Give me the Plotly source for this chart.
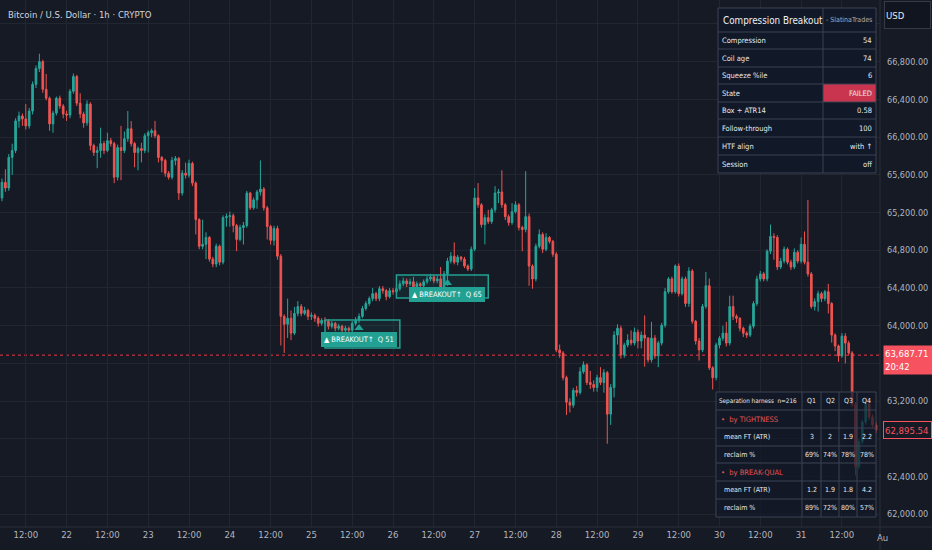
import plotly.graph_objects as go
import pandas as pd

# ---------------- data ----------------
start_time = "2024-07-21 05:00"
first_open = 65355

close = [
    65520, 65460, 65785, 65858, 66172, 66224, 66193, 66119, 66276, 66559, 66727, 66800,
    66507, 66412, 66140, 66255, 66412, 66329, 66245, 66234, 66486, 66643, 66360, 66245,
    66151, 66350, 65910, 65837, 65858, 65931, 65858, 65962, 65931, 65575, 65889, 65858,
    65983, 66088, 65931, 65837, 65878, 65858, 66015, 66046, 66067, 66015, 65784, 65753,
    65617, 65575, 65753, 65774, 65407, 65617, 65596, 65721, 65512, 65125, 64842, 64863,
    64936, 64706, 64654, 64842, 64674, 65146, 65156, 65167, 65062, 64915, 65041, 65062,
    65407, 65250, 65334, 65418, 65449, 65250, 65051, 64905, 65030, 64737, 64099, 64015,
    64078, 63921, 64130, 64203, 64130, 64161, 64099, 64109, 64078, 64025, 64057, 64046,
    63994, 64025, 63973, 63994, 63952, 63973, 63952, 64025, 64057, 64099, 64182, 64235,
    64287, 64340, 64287, 64392, 64371, 64308, 64371, 64361, 64392, 64444, 64475, 64444,
    64465, 64413, 64444, 64423, 64465, 64496, 64517, 64475, 64496, 64392, 64549, 64685,
    64737, 64674, 64727, 64706, 64633, 64601, 64811, 65355, 65282, 65072, 65146, 65104,
    65229, 65407, 65418, 65282, 65156, 65093, 65208, 65282, 65041, 65020, 65156, 64633,
    64496, 64842, 64968, 64811, 64936, 64894, 64758, 63743, 63711, 63449, 63188, 63157,
    63313, 63292, 63512, 63585, 63397, 63376, 63345, 63449, 63397, 63502, 63062, 63345,
    63900, 63973, 63690, 63795, 63847, 63816, 63931, 63837, 63900, 63868, 63638, 63868,
    63680, 63816, 64004, 64360, 64496, 64360, 64633, 64340, 64496, 64235, 64580, 64046,
    63837, 63743, 64203, 64423, 63554, 63449, 63795, 63868, 63921, 63816, 64203, 64099,
    64078, 63973, 63921, 63900, 63994, 64235, 64496, 64549, 64496, 64790, 64947, 64936,
    64622, 64685, 64811, 64674, 64622, 64779, 64685, 64863, 64674, 64549, 64203, 64256,
    64340, 64287, 64360, 64235, 63900, 63785, 63680, 63889, 63816, 63711, 63167, 62507,
    62770, 62978, 63167, 63031, 62947, 62895.54,
]

high = [
    65560, 65658, 65820, 65930, 66200, 66270, 66250, 66350, 66310, 66590, 66760, 66884,
    66820, 66670, 66430, 66280, 66430, 66440, 66350, 66280, 66510, 66674, 66660, 66465,
    66270, 66390, 66370, 65930, 65900, 66100, 65960, 66046, 65990, 65950, 65920, 66119,
    66060, 66276, 66170, 65950, 65900, 65940, 66040, 66070, 66090, 66172, 66030, 65800,
    65770, 65640, 65790, 65800, 65790, 65650, 65730, 65760, 65740, 65530, 65140, 65125,
    64990, 64950, 64730, 64870, 64860, 65170, 65190, 65210, 65190, 65080, 65070, 65100,
    65430, 65420, 65360, 65440, 65753, 65470, 65270, 65070, 65060, 65060, 64760, 64120,
    64287, 64161, 64200, 64260, 64230, 64200, 64180, 64140, 64130, 64100, 64080, 64090,
    64070, 64050, 64040, 64020, 64010, 64000, 63990, 64050, 64090, 64130, 64210, 64260,
    64310, 64400, 64360, 64420, 64420, 64390, 64400, 64400, 64430, 64480, 64510, 64500,
    64500, 64517, 64470, 64460, 64490, 64530, 64550, 64540, 64530, 64622, 64580, 64720,
    64780, 64884, 64750, 64740, 64730, 64650, 64840, 65460, 65512, 65300, 65180, 65229,
    65250, 65480, 65450, 65648, 65300, 65180, 65300, 65320, 65300, 65060, 65638, 65190,
    64650, 64870, 65020, 64990, 64980, 64950, 64910, 64780, 63800, 63730, 63470, 63230,
    63340, 63360, 63560, 63620, 63600, 63520, 63420, 63480, 63560, 63540, 63520, 63380,
    63942, 64015, 64000, 63820, 63910, 63950, 63980, 63960, 63940, 64109, 63880, 64040,
    63900, 63840, 64030, 64400, 64517, 64520, 64650, 64660, 64520, 64520, 64620, 64600,
    64060, 63870, 64230, 64570, 64500, 63570, 63820, 63890, 64000, 64040, 64318, 64318,
    64120, 64090, 63990, 63940, 64020, 64260, 64530, 64580, 64570, 64810, 65072, 64980,
    64960, 64720, 64840, 64830, 64700, 64820, 64800, 64936, 64999, 65334, 64570, 64290,
    64370, 64360, 64380, 64444, 64250, 63920, 63800, 63921, 63920, 63840, 63730, 63190,
    62800, 63000, 63200, 63220, 63060, 62980,
]

low = [
    65320, 65420, 65430, 65600, 65830, 66100, 66120, 66080, 66090, 66240, 66520, 66690,
    66470, 66390, 66067, 66046, 66230, 66300, 66200, 66172, 66200, 66460, 66330, 66200,
    66100, 66120, 65860, 65800, 65670, 65780, 65820, 65840, 65900, 65512, 65540, 65543,
    65830, 65950, 65900, 65680, 65648, 65732, 65830, 65837, 66000, 65990, 65732, 65627,
    65580, 65550, 65550, 65700, 65334, 65380, 65560, 65570, 65480, 64968, 64811, 64811,
    64706, 64680, 64620, 64620, 64640, 64650, 65050, 65050, 64990, 64790, 64894, 64860,
    65040, 65229, 65230, 65240, 65380, 65220, 64915, 64860, 64850, 64700, 63790, 63711,
    63870, 63847, 63900, 64100, 64100, 64110, 64060, 64060, 64040, 63990, 64000, 64010,
    63960, 63970, 63940, 63950, 63920, 63785, 63920, 63930, 64000, 64030, 64080, 64160,
    64210, 64260, 64260, 64260, 64340, 64270, 64290, 64330, 64340, 64370, 64420, 64410,
    64420, 64380, 64390, 64390, 64400, 64440, 64470, 64450, 64450, 64370, 64370, 64423,
    64660, 64650, 64640, 64680, 64610, 64580, 64580, 64790, 65250, 65040, 64863, 65080,
    65080, 65200, 65300, 65250, 65120, 65060, 65070, 65190, 65010, 64790, 64990, 64423,
    64392, 64470, 64820, 64770, 64790, 64870, 64730, 63720, 63660, 63420, 63052, 63080,
    63130, 63250, 63270, 63490, 63370, 63330, 63300, 63300, 63370, 63290, 62748, 62948,
    63240, 63800, 63650, 63660, 63770, 63790, 63790, 63760, 63760, 63565, 63610, 63610,
    63650, 63560, 63790, 63980, 64340, 64340, 64340, 64310, 64320, 64200, 64200, 64020,
    63800, 63630, 63720, 64180, 63530, 63324, 63420, 63760, 63840, 63780, 63790, 64060,
    64030, 63940, 63880, 63870, 63880, 63970, 64210, 64470, 64470, 64470, 64760, 64700,
    64590, 64600, 64660, 64650, 64590, 64600, 64660, 64660, 64650, 64520, 64180, 64161,
    64150, 64250, 64260, 64130, 63820, 63730, 63617, 63660, 63600, 63690, 63140, 62413,
    62480, 62740, 62950, 63000, 62920, 62860,
]

time_tick_labels = ["12:00", "22", "12:00", "23", "12:00", "24", "12:00", "25", "12:00", "26",
                    "12:00", "27", "12:00", "28", "12:00", "29", "12:00", "30", "12:00", "31", "12:00"]
price_tick_values = [62000, 62400, 62800, 63200, 63600, 64000, 64400, 64800,
                     65200, 65600, 66000, 66400, 66800, 67200]
price_tick_labels = ["62,000.00", "62,400.00", "", "63,200.00", "", "64,000.00", "64,400.00",
                     "64,800.00", "65,200.00", "65,600.00", "66,000.00", "66,400.00", "66,800.00", ""]

symbol_title = "Bitcoin / U.S. Dollar · 1h · CRYPTO"
currency = "USD"
line_price = 63687.71
line_price_label = "63,687.71"
countdown = "20:42"
last_price_label = "62,895.54"

# breakout events (coil box + breakout label)
bo_start = ["2024-07-25 04:00", "2024-07-26 01:00"]
bo_end = ["2024-07-26 02:00", "2024-07-27 04:00"]
bo_top = [64060, 64538]
bo_bottom = [63764, 64294]
bo_time = ["2024-07-25 14:00", "2024-07-26 16:00"]
bo_price = [63976, 64453]
bo_quality = [51, 65]

# dashboard table
dash_title = "Compression Breakout"
dash_author = "- SlatinaTrades"
dash_labels = ["Compression", "Coil age", "Squeeze %ile", "State", "Box ÷ ATR14",
               "Follow-through", "HTF align", "Session"]
dash_values = ["54", "74", "6", "FAILED", "0.58", "100", "with ↑", "off"]

# separation harness table
harness_n = 216
harness_cols = ["Q1", "Q2", "Q3", "Q4"]
tight_mean_ft = ["3", "2", "1.9", "2.2"]
tight_reclaim = ["69%", "74%", "78%", "78%"]
bq_mean_ft = ["1.2", "1.9", "1.8", "4.2"]
bq_reclaim = ["89%", "72%", "80%", "57%"]

# ---------------- styling ----------------
FONT = "DejaVu Sans Condensed, Liberation Sans Narrow, Arial Narrow, sans-serif"
BG = "#161a25"
GRID = "#222631"
UP = "#26a69a"
DOWN = "#ef5350"
TEXT = "#b2b5be"
TEAL = "#22a193"
PW, PH = 880, 527  # plot area in pixels


def px(x):
    return x / PW


def py(y):
    return 1 - y / PH


times = pd.date_range(start_time, periods=len(close), freq="h")
opens = [first_open] + close[:-1]
tick_vals = pd.date_range("2024-07-21 12:00", periods=len(time_tick_labels), freq="12h")

fig = go.Figure()
fig.add_trace(go.Candlestick(
    x=times, open=opens, high=high, low=low, close=close,
    increasing=dict(line=dict(color=UP, width=1), fillcolor=UP),
    decreasing=dict(line=dict(color=DOWN, width=1), fillcolor=DOWN),
    whiskerwidth=0, hoverinfo="skip",
))
fig.add_trace(go.Scatter(
    x=pd.to_datetime(bo_time), y=bo_price, mode="markers",
    marker=dict(symbol="triangle-up", size=8, color=TEAL), hoverinfo="skip",
))

shapes = []
# pane separators
shapes.append(dict(type="line", xref="paper", yref="paper", x0=1, x1=1, y0=py(550), y1=1,
                   line=dict(color="#2a2e39", width=1)))
shapes.append(dict(type="line", xref="paper", yref="paper", x0=0, x1=px(932), y0=0, y1=0,
                   line=dict(color="#2a2e39", width=1)))
# price line
shapes.append(dict(type="line", xref="paper", x0=0, x1=1, yref="y", y0=line_price, y1=line_price,
                   line=dict(color="#f23645", width=1, dash="dot"), layer="below"))
# breakout boxes
for s, e, t, b in zip(bo_start, bo_end, bo_top, bo_bottom):
    shapes.append(dict(type="rect", xref="x", yref="y", x0=s, x1=e, y0=b, y1=t,
                       line=dict(color=TEAL, width=1.5), fillcolor="rgba(34,161,147,0.10)", layer="above"))

annotations = []


def text(x, y, s, size=9, color="#e6e8ec", anchor="left"):
    annotations.append(dict(xref="paper", yref="paper", x=px(x), y=py(y), text=s, showarrow=False,
                            xanchor=anchor, yanchor="middle", font=dict(size=size, color=color, family=FONT)))


# ---- dashboard table ----
T_X = [718, 823, 876]
T_Y = [8, 32, 49, 67, 84, 102, 119, 137, 155, 173]
TB_BORDER = "#3a4254"
shapes.append(dict(type="rect", xref="paper", yref="paper", x0=px(T_X[0]), x1=px(T_X[2]),
                   y0=py(T_Y[-1]), y1=py(T_Y[0]), fillcolor="#111827", line=dict(width=0), layer="above"))
state_row = dash_labels.index("State")
shapes.append(dict(type="rect", xref="paper", yref="paper", x0=px(T_X[1]), x1=px(T_X[2]),
                   y0=py(T_Y[state_row + 2]), y1=py(T_Y[state_row + 1]), fillcolor="#c9354f",
                   line=dict(width=0), layer="above"))
for yy in T_Y:
    shapes.append(dict(type="line", xref="paper", yref="paper", x0=px(T_X[0]), x1=px(T_X[2]),
                       y0=py(yy), y1=py(yy), line=dict(color=TB_BORDER, width=1), layer="above"))
for xx in T_X:
    shapes.append(dict(type="line", xref="paper", yref="paper", x0=px(xx), x1=px(xx),
                       y0=py(T_Y[-1]), y1=py(T_Y[0]), line=dict(color=TB_BORDER, width=1), layer="above"))
text(721, (T_Y[0] + T_Y[1]) / 2, dash_title, size=9.8, color="#eef0f3")
text(874, (T_Y[0] + T_Y[1]) / 2, dash_author, size=7, color="#a8aebb", anchor="right")
for k, (lab, val) in enumerate(zip(dash_labels, dash_values)):
    yc = (T_Y[k + 1] + T_Y[k + 2]) / 2
    text(720, yc, lab, size=7.5)
    text(874, yc, val, size=7.5, anchor="right")

# ---- separation harness table ----
B_X = [716, 802, 821, 839, 857, 876]
B_Y = [392, 410, 428, 446, 463, 481, 499, 517]
shapes.append(dict(type="rect", xref="paper", yref="paper", x0=px(B_X[0]), x1=px(B_X[-1]),
                   y0=py(B_Y[-1]), y1=py(B_Y[0]), fillcolor="rgba(17,24,39,0.72)",
                   line=dict(width=0), layer="above"))
for yy in B_Y:
    shapes.append(dict(type="line", xref="paper", yref="paper", x0=px(B_X[0]), x1=px(B_X[-1]),
                       y0=py(yy), y1=py(yy), line=dict(color=TB_BORDER, width=1), layer="above"))
for xx in B_X:
    shapes.append(dict(type="line", xref="paper", yref="paper", x0=px(xx), x1=px(xx),
                       y0=py(B_Y[-1]), y1=py(B_Y[0]), line=dict(color=TB_BORDER, width=1), layer="above"))
harness_rows = [
    (f"Separation harness  n={harness_n}", harness_cols, "header"),
    ("•  by TIGHTNESS", ["", "", "", ""], "section"),
    ("mean FT (ATR)", tight_mean_ft, "data"),
    ("reclaim %", tight_reclaim, "data"),
    ("•  by BREAK-QUAL", ["", "", "", ""], "section"),
    ("mean FT (ATR)", bq_mean_ft, "data"),
    ("reclaim %", bq_reclaim, "data"),
]
for r, (lab, vals, kind) in enumerate(harness_rows):
    yc = (B_Y[r] + B_Y[r + 1]) / 2
    if kind == "section":
        text(719, yc, lab, size=7.5, color="#e5534f")
    elif kind == "header":
        text(717, yc, lab, size=6.3)
    else:
        text(722, yc, lab, size=7)
    for c, v in enumerate(vals):
        if v:
            text((B_X[c + 1] + B_X[c + 2]) / 2, yc, v, size=7, anchor="center")

# ---- breakout labels ----
for t, p, q in zip(bo_time, bo_price, bo_quality):
    annotations.append(dict(xref="x", yref="y", x=t, y=p, text=f"▲ BREAKOUT↑  Q {q}", showarrow=False,
                            xanchor="center", yanchor="top", yshift=-4, bgcolor=TEAL, bordercolor=TEAL,
                            borderpad=2, font=dict(size=7.5, color="#ffffff", family=FONT)))

# ---- header / price scale labels ----
text(6, 15, symbol_title, size=9.5, color="#d1d4dc")
annotations.append(dict(xref="paper", yref="paper", x=px(884), y=py(15), text=currency, showarrow=False,
                        xanchor="left", yanchor="middle", width=43, height=24, align="left",
                        bgcolor="#111520", bordercolor="#363a45", borderwidth=1,
                        font=dict(size=9.5, color="#e6e8ec", family=FONT)))
annotations.append(dict(xref="paper", yref="y", x=px(883), y=line_price, yshift=-5,
                        text=f"{line_price_label}<br>{countdown}", showarrow=False,
                        xanchor="left", yanchor="middle", width=46, height=26, align="left",
                        bgcolor="#f7525f", font=dict(size=9.5, color="#ffffff", family=FONT)))
annotations.append(dict(xref="paper", yref="y", x=px(883), y=close[-1], text=last_price_label,
                        showarrow=False, xanchor="left", yanchor="middle", width=45, height=14,
                        align="left", bgcolor=BG, bordercolor="#f7525f", borderwidth=1,
                        font=dict(size=9.5, color="#f7525f", family=FONT)))
text(875, 538, "Au", size=9.5, color=TEXT)

x_range = [times[0] - pd.Timedelta(minutes=35), times[0] + pd.Timedelta(hours=258.2)]

fig.update_layout(
    width=932, height=550, margin=dict(l=0, r=52, t=0, b=23),
    paper_bgcolor=BG, plot_bgcolor=BG, showlegend=False,
    font=dict(family=FONT, color=TEXT, size=9.5),
    shapes=shapes, annotations=annotations, hovermode=False,
)
fig.update_xaxes(type="date", range=x_range, tickvals=tick_vals, ticktext=time_tick_labels,
                 showgrid=True, gridcolor=GRID, gridwidth=1, zeroline=False, showline=False,
                 ticks="", rangeslider=dict(visible=False), tickfont=dict(size=9.5, color=TEXT))
fig.update_yaxes(side="right", range=[61865, 67454], tickvals=price_tick_values,
                 ticktext=price_tick_labels, showgrid=True, gridcolor=GRID, gridwidth=1,
                 zeroline=False, showline=False, ticks="", ticklabelstandoff=6,
                 tickfont=dict(size=9, color=TEXT))

fig.write_html("out.html", config={"displayModeBar": False},
               post_script="document.body.style.margin='0';document.body.style.background='#161a25';")
